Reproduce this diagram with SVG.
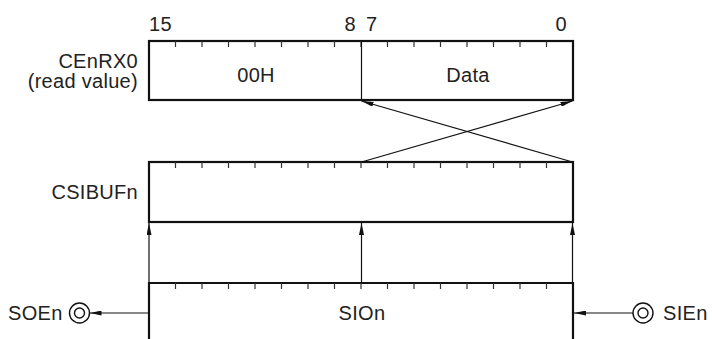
<svg xmlns="http://www.w3.org/2000/svg" width="712" height="339" viewBox="0 0 712 339">
<style>
.t{font-family:"Liberation Sans",Arial,sans-serif;font-size:20px;letter-spacing:0.3px;fill:#222}
.box{fill:#fff;stroke:#111;stroke-width:2.2}
.tick{stroke:#333;stroke-width:1.2}
.ln{stroke:#111;stroke-width:1.2;fill:none}
.pin{fill:#fff;stroke:#111;stroke-width:1.4}
</style>
<defs>
<marker id="ah" viewBox="0 0 12 5" refX="12" refY="2.5" markerWidth="12" markerHeight="5" markerUnits="userSpaceOnUse" orient="auto">
<path d="M0,0 L12,2.5 L0,5 z" fill="#111"/>
</marker>
<g id="ticks41">
<path class="tick" d="M175.5,0v6M202,0v6M228.5,0v6M255,0v6M281.5,0v6M308,0v6M334.5,0v6M361,0v6M387.5,0v6M414,0v6M440.5,0v6M467,0v6M493.5,0v6M520,0v6M546.5,0v6"/>
</g>
</defs>

<g id="bit-labels">
<text class="t" x="149" y="31">15</text>
<text class="t" x="356" y="31" text-anchor="end">8</text>
<text class="t" x="366" y="31">7</text>
<text class="t" x="567" y="31" text-anchor="end">0</text>
</g>

<g id="CEnRX0">
<rect class="box" x="149" y="41" width="424" height="59"/>
<use href="#ticks41" y="41"/>
<line class="ln" x1="361.5" y1="41" x2="361.5" y2="100"/>
<text class="t" x="256" y="82" text-anchor="middle">00H</text>
<text class="t" x="468" y="82" text-anchor="middle">Data</text>
<text class="t" x="138" y="68" text-anchor="end">CEnRX0</text>
<text class="t" x="138" y="88" text-anchor="end">(read value)</text>
</g>

<g id="CSIBUFn">
<rect class="box" x="149" y="162" width="424" height="60"/>
<use href="#ticks41" y="162"/>
<text class="t" x="138" y="199" text-anchor="end">CSIBUFn</text>
</g>

<g id="SIOn">
<path class="box" d="M149,345V283H573V345"/>
<use href="#ticks41" y="283"/>
<text class="t" x="362" y="320" text-anchor="middle">SIOn</text>
</g>

<g id="SOEn">
<circle class="pin" cx="79.5" cy="313" r="10"/>
<circle class="pin" cx="79.5" cy="313" r="5"/>
<text class="t" x="8" y="320">SOEn</text>
</g>

<g id="SIEn">
<circle class="pin" cx="643" cy="313" r="10"/>
<circle class="pin" cx="643" cy="313" r="5"/>
<text class="t" x="663" y="320">SIEn</text>
</g>

<g id="connectors">
<line class="ln" x1="361.5" y1="162" x2="572.5" y2="101" marker-end="url(#ah)"/>
<line class="ln" x1="572.5" y1="162" x2="361.5" y2="101" marker-end="url(#ah)"/>
<line class="ln" x1="149" y1="283" x2="149" y2="223" marker-end="url(#ah)"/>
<line class="ln" x1="361.5" y1="283" x2="361.5" y2="223" marker-end="url(#ah)"/>
<line class="ln" x1="572.5" y1="283" x2="572.5" y2="223" marker-end="url(#ah)"/>
<line class="ln" x1="148" y1="313" x2="89.5" y2="313" marker-end="url(#ah)"/>
<line class="ln" x1="633" y1="313" x2="574" y2="313" marker-end="url(#ah)"/>
</g>
</svg>
